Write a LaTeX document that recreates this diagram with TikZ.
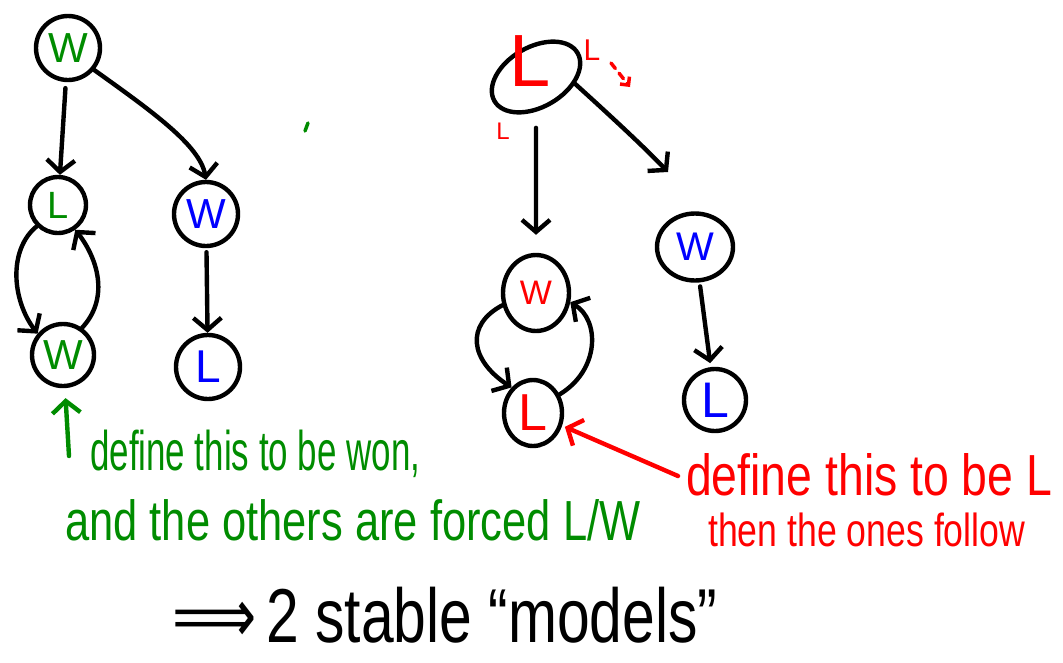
\documentclass[tikz,border=0pt]{standalone}
\usepackage{graphicx}
\usepackage{fontspec}
\setmainfont{Liberation Sans}
\newfontfamily\djv{DejaVu Sans}
\usetikzlibrary{arrows.meta,shapes.geometric}
\definecolor{hgreen}{RGB}{0,140,0}
\definecolor{hred}{RGB}{255,0,0}
\definecolor{hblue}{RGB}{0,0,255}
\newcommand{\fitw}[3]{\scalebox{1}[#2]{\resizebox{#1}{!}{#3}}}
\newcommand{\fs}[1]{\fontsize{#1}{#1}\selectfont}
\begin{document}
\begin{tikzpicture}[x=1pt,y=-1pt,
  ring/.style={draw=black, line width=4.4pt, circle, inner sep=0pt},
  oval/.style={draw=black, line width=4.4pt, ellipse, inner sep=0pt},
  arr/.style={draw=black, line width=4.4pt, line cap=round, line join=round,
    -{Straight Barb[length=12pt,width=28pt]}},
  redarr/.style={arr, draw=hred},
  greenarr/.style={arr, draw=hgreen},
  note/.style={anchor=base west, inner sep=0pt}]
\useasboundingbox (0,0) rectangle (1063,662);
% left graph
\node[ring, minimum size=64pt, text=hgreen, font=\fs{42}] (A) at (68,48) {W};
\node[ring, minimum size=56pt, text=hgreen, font=\fs{38}] (B) at (58,205) {L};
\node[ring, minimum size=62pt, text=hgreen, font=\fs{42}] (C) at (63,355) {W};
\node[ring, minimum size=64pt, text=hblue, font=\fs{42}] (D) at (206,214) {W};
\node[ring, minimum size=64pt, text=hblue, font=\fs{46}] (E) at (208,367) {L};
\draw[arr, shorten <=6pt] (A) -- (B);
\draw[arr] (A.-40) .. controls (150,110) and (200,145) .. (D.north);
\draw[arr] (B.225) .. controls (8,250) and (12,300) .. (C.140);
\draw[arr] (C.55) .. controls (108,300) and (100,262) .. (B.-55);
\draw[arr, shorten <=4pt] (D) -- (E);
% right graph
\node[oval, minimum width=96pt, minimum height=60pt, rotate=30] (F) at (536,77) {};
\node[text=hred, font=\fs{74}, anchor=base, inner sep=0pt] (FL) at (530,86) {L};
\node[oval, minimum width=66pt, minimum height=76pt, text=hred, font=\fs{34}] (G) at (536,293) {W};
\node[oval, minimum width=58pt, minimum height=66pt, text=hred, font=\fs{52}] (H) at (533,413) {L};
\node[oval, minimum width=76pt, minimum height=67pt, text=hblue, font=\fs{40}] (I) at (695,247) {W};
\node[ring, minimum size=62pt, text=hblue, font=\fs{50}] (J) at (715,400) {L};
\coordinate (Itip) at (668,172);
\draw[arr, shorten <=16pt, shorten >=18pt] (F) -- (G);
\draw[arr] (F.-40) .. controls (615,120) and (645,148) .. (Itip);
\draw[arr] (G.200) .. controls (465,325) and (470,360) .. (H.130);
\draw[arr] (H.35) .. controls (600,370) and (600,320) .. (G.-15);
\draw[arr, shorten <=4pt, shorten >=4pt] (I) -- (J);
% red small marks
\node[text=hred, font=\fs{30}, inner sep=0pt] (rl1) at (592,50) {L};
\node[text=hred, font=\fs{24}, inner sep=0pt] (rl2) at (503,131) {L};
\coordinate (ra1) at (611,63);
\coordinate (ra2) at (630,87);
\draw[hred, line width=3.5pt, dash pattern=on 7pt off 6pt, line cap=round,
  -{Straight Barb[length=6pt,width=12pt]}] (ra1) -- (ra2);
% green tick
\coordinate (gt1) at (308,123);
\coordinate (gt2) at (305,131);
\draw[hgreen, line width=3.5pt, line cap=round] (gt1) -- (gt2);
% annotation arrows
\coordinate (gs) at (69,456);
\draw[greenarr, shorten >=10pt] (gs) -- (C);
\coordinate (rs) at (678,476);
\draw[redarr, shorten >=3pt] (rs) -- (H);
% texts
\node[note, text=hgreen] (t1) at (90,470) {\fitw{330pt}{1.6}{define this to be won,}};
\node[note, text=hgreen] (t2) at (65,540) {\fitw{575pt}{1.3}{and the others are forced L/W}};
\node[note, text=hred] (t3) at (686,495) {\fitw{366pt}{1.25}{define this to be L}};
\node[note, text=hred] (t4) at (708,546) {\fitw{317pt}{1.3}{then the ones follow}};
\node[note, text=black] (t5) at (172,642) {\fitw{545pt}{1.3}{{\djv ⟹}\,2 stable “models”}};
\end{tikzpicture}
\end{document}
